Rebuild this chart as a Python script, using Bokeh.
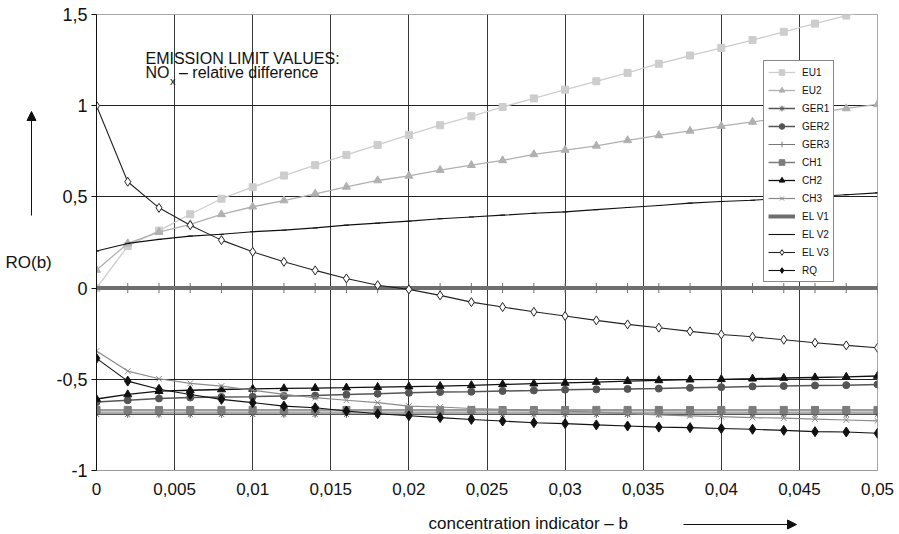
import math
from bokeh.plotting import figure
from bokeh.layouts import row, column
from bokeh.models import Range1d, FixedTicker, Legend, LegendItem, Label, Arrow, NormalHead
from bokeh.embed import file_html
from bokeh.resources import INLINE

# ---------------- data ----------------
b = [0.000, 0.002, 0.004, 0.006, 0.008, 0.010, 0.012, 0.014, 0.016, 0.018,
     0.020, 0.022, 0.024, 0.026, 0.028, 0.030, 0.032, 0.034, 0.036, 0.038,
     0.040, 0.042, 0.044, 0.046, 0.048, 0.050]

EU1 = [0.000, 0.230, 0.315, 0.405, 0.490, 0.553, 0.617, 0.674, 0.730, 0.785,
       0.840, 0.893, 0.942, 0.993, 1.040, 1.088, 1.134, 1.180, 1.230, 1.275,
       1.317, 1.360, 1.405, 1.450, 1.494, 1.535]
EU2 = [0.099, 0.245, 0.307, 0.349, 0.404, 0.446, 0.480, 0.517, 0.555, 0.590,
       0.615, 0.647, 0.674, 0.700, 0.733, 0.757, 0.780, 0.810, 0.837, 0.862,
       0.888, 0.911, 0.935, 0.960, 0.985, 1.007]
GER1 = [-0.692] * 26
GER2 = [-0.625, -0.615, -0.605, -0.600, -0.597, -0.595, -0.592, -0.589, -0.584, -0.579,
        -0.574, -0.570, -0.568, -0.564, -0.561, -0.557, -0.555, -0.553, -0.551, -0.547,
        -0.543, -0.539, -0.537, -0.534, -0.532, -0.528]
GER3 = [-0.680] * 26
CH1 = [-0.668] * 26
CH2 = [-0.608, -0.583, -0.565, -0.560, -0.556, -0.553, -0.550, -0.548, -0.546, -0.543,
       -0.540, -0.537, -0.533, -0.528, -0.524, -0.520, -0.515, -0.510, -0.506, -0.502,
       -0.500, -0.497, -0.493, -0.490, -0.487, -0.482]
CH3 = [-0.345, -0.455, -0.497, -0.522, -0.537, -0.560, -0.583, -0.601, -0.615, -0.628,
       -0.647, -0.652, -0.660, -0.665, -0.670, -0.674, -0.680, -0.688, -0.695, -0.700,
       -0.705, -0.710, -0.713, -0.718, -0.723, -0.728]
ELV1 = [0.0] * 26
ELV2 = [0.203, 0.245, 0.267, 0.285, 0.295, 0.309, 0.318, 0.330, 0.345, 0.356,
        0.367, 0.380, 0.390, 0.400, 0.410, 0.418, 0.430, 0.442, 0.453, 0.466,
        0.475, 0.482, 0.492, 0.502, 0.512, 0.522]
ELV3 = [1.000, 0.583, 0.440, 0.345, 0.263, 0.199, 0.144, 0.097, 0.053, 0.016,
        -0.007, -0.040, -0.077, -0.104, -0.130, -0.153, -0.177, -0.199, -0.217, -0.237,
        -0.254, -0.267, -0.283, -0.300, -0.314, -0.327]
RQ = [-0.385, -0.510, -0.555, -0.583, -0.610, -0.628, -0.647, -0.656, -0.674, -0.689,
      -0.700, -0.710, -0.720, -0.729, -0.738, -0.743, -0.750, -0.756, -0.762, -0.765,
      -0.770, -0.774, -0.780, -0.787, -0.789, -0.796]

series_names = ["EU1", "EU2", "GER1", "GER2", "GER3", "CH1", "CH2", "CH3",
                "EL V1", "EL V2", "EL V3", "RQ"]
series_values = [EU1, EU2, GER1, GER2, GER3, CH1, CH2, CH3, ELV1, ELV2, ELV3, RQ]

x_ticks = [0.0, 0.005, 0.01, 0.015, 0.02, 0.025, 0.03, 0.035, 0.04, 0.045, 0.05]
x_tick_labels = ["0", "0,005", "0,01", "0,015", "0,02", "0,025", "0,03", "0,035",
                 "0,04", "0,045", "0,05"]
y_ticks = [-1.0, -0.5, 0.0, 0.5, 1.0, 1.5]
y_tick_labels = ["-1", "-0,5", "0", "0,5", "1", "1,5"]

# ---------------- styles ----------------
styles = {
    "EU1":   dict(color="#cdcdcd", lw=1.3, marker="square",   size=7, fill="#cdcdcd", angle=0),
    "EU2":   dict(color="#b0b0b0", lw=1.3, marker="triangle", size=8, fill="#b0b0b0", angle=0),
    "GER1":  dict(color="#555555", lw=1.5, marker="asterisk", size=7, fill="#555555", angle=0),
    "GER2":  dict(color="#555555", lw=1.5, marker="circle",   size=7, fill="#555555", angle=0),
    "GER3":  dict(color="#777777", lw=1.0, marker="cross",    size=9, fill="#777777", angle=0),
    "CH1":   dict(color="#7c7c7c", lw=1.5, marker="square",   size=7, fill="#7c7c7c", angle=0),
    "CH2":   dict(color="#111111", lw=1.3, marker="triangle", size=8, fill="#111111", angle=0),
    "CH3":   dict(color="#8a8a8a", lw=1.2, marker="x",        size=8, fill="#8a8a8a", angle=0),
    "EL V1": dict(color="#6e6e6e", lw=4.0, marker="dash",     size=10, fill="#6e6e6e", angle=math.pi / 2),
    "EL V2": dict(color="#111111", lw=1.1, marker="dash",     size=5, fill="#111111", angle=0),
    "EL V3": dict(color="#222222", lw=1.1, marker="diamond",  size=9, fill="white", angle=0),
    "RQ":    dict(color="#111111", lw=1.1, marker="diamond",  size=10, fill="#111111", angle=0),
}

FONT = "Liberation Sans"
TXT = "#111111"

# page geometry (px): left strip | main chart ; bottom strip under main chart
LEFT_W = 53
PAGE_W, PAGE_H = 899, 534
FRAME_L, FRAME_R, FRAME_T, FRAME_B = 96, 877, 14, 470
MAIN_BOTTOM_BORDER = 34


def px_x(px):
    return (px - FRAME_L) / (FRAME_R - FRAME_L) * 0.05


def px_y(py):
    return -1 + (FRAME_B - py) / (FRAME_B - FRAME_T) * 2.5


# ---------------- main chart ----------------
p = figure(frame_width=FRAME_R - FRAME_L, frame_height=FRAME_B - FRAME_T,
           output_backend="svg", toolbar_location=None,
           x_range=Range1d(0, 0.05), y_range=Range1d(-1, 1.5),
           min_border_left=FRAME_L - LEFT_W, min_border_right=PAGE_W - FRAME_R,
           min_border_top=FRAME_T, min_border_bottom=MAIN_BOTTOM_BORDER)
p.background_fill_color = "white"
p.border_fill_color = "white"
p.outline_line_color = "#a8a8a8"
p.outline_line_width = 1

p.xaxis.ticker = FixedTicker(ticks=x_ticks)
p.xaxis.major_label_overrides = dict(zip(x_ticks, x_tick_labels))
p.xaxis.axis_line_color = "#9a9a9a"
p.xaxis.major_tick_in = 0
p.xaxis.major_tick_out = 0
p.xaxis.minor_tick_line_color = None
p.xaxis.major_label_standoff = 12
p.xaxis.major_label_text_font = FONT
p.xaxis.major_label_text_font_size = "17px"
p.xaxis.major_label_text_color = TXT

p.yaxis.ticker = FixedTicker(ticks=y_ticks)
p.yaxis.major_label_overrides = dict(zip(y_ticks, y_tick_labels))
p.yaxis.axis_line_color = TXT
p.yaxis.major_tick_in = 0
p.yaxis.major_tick_out = 5
p.yaxis.major_tick_line_color = TXT
p.yaxis.minor_tick_line_color = None
p.yaxis.major_label_standoff = 4
p.yaxis.major_label_text_font = FONT
p.yaxis.major_label_text_font_size = "18px"
p.yaxis.major_label_text_color = TXT

p.xgrid.ticker = FixedTicker(ticks=x_ticks)
p.xgrid.grid_line_color = "#3a3a3a"
p.xgrid.grid_line_width = 1
p.ygrid.ticker = FixedTicker(ticks=y_ticks)
p.ygrid.grid_line_color = "#222222"
p.ygrid.grid_line_width = 1

items = []
for name, vals in zip(series_names, series_values):
    st = styles[name]
    ln = p.line(b, vals, line_color=st["color"], line_width=st["lw"])
    sc = p.scatter(b, vals, marker=st["marker"], size=st["size"], angle=st["angle"],
                   line_color=st["color"], fill_color=st["fill"], line_width=1)
    items.append(LegendItem(label=name, renderers=[ln, sc]))

legend = Legend(items=items, location=(763 - FRAME_L, FRAME_B - 282))
legend.label_text_font = FONT
legend.label_text_font_size = "10px"
legend.label_text_color = TXT
legend.glyph_width = 27
legend.glyph_height = 14
legend.label_height = 14
legend.spacing = 4
legend.padding = 4
legend.margin = 0
legend.label_standoff = 7
legend.border_line_color = TXT
legend.border_line_width = 1
legend.background_fill_color = "white"
legend.background_fill_alpha = 1
p.add_layout(legend, "center")

p.add_layout(Label(x=px_x(145), y=px_y(57.5), text="EMISSION LIMIT VALUES:",
                   text_font=FONT, text_font_size="16px", text_color=TXT,
                   text_baseline="alphabetic"))
p.add_layout(Label(x=px_x(145), y=px_y(72), text="NO",
                   text_font=FONT, text_font_size="16px", text_color=TXT,
                   text_baseline="alphabetic"))
p.add_layout(Label(x=px_x(169.5), y=px_y(80), text="x",
                   text_font=FONT, text_font_size="11px", text_color=TXT,
                   text_baseline="alphabetic"))
p.add_layout(Label(x=px_x(178.5), y=px_y(72), text="– relative difference",
                   text_font=FONT, text_font_size="16px", text_color=TXT,
                   text_baseline="alphabetic"))

# ---------------- left strip: y title with arrow ----------------
left = figure(frame_width=LEFT_W, frame_height=PAGE_H, output_backend="svg",
              toolbar_location=None, x_range=Range1d(0, LEFT_W), y_range=Range1d(PAGE_H, 0),
              x_axis_location=None, y_axis_location=None,
              min_border_left=0, min_border_right=0, min_border_top=0, min_border_bottom=0)
left.grid.visible = False
left.outline_line_color = None
left.border_fill_color = "white"
left.add_layout(Label(x=5, y=262, text="RO(b)", text_font=FONT, text_font_size="17px",
                      text_color=TXT, text_baseline="middle"))
left.add_layout(Arrow(end=NormalHead(size=9, fill_color=TXT, line_color=TXT),
                      x_start=31, y_start=215, x_end=31, y_end=111,
                      line_color=TXT, line_width=1))

# ---------------- bottom strip: x title with arrow ----------------
BOT_TOP = FRAME_B + MAIN_BOTTOM_BORDER
bottom = figure(frame_width=PAGE_W - LEFT_W, frame_height=PAGE_H - BOT_TOP, output_backend="svg",
                toolbar_location=None, x_range=Range1d(LEFT_W, PAGE_W),
                y_range=Range1d(PAGE_H, BOT_TOP),
                x_axis_location=None, y_axis_location=None,
                min_border_left=0, min_border_right=0, min_border_top=0, min_border_bottom=0)
bottom.grid.visible = False
bottom.outline_line_color = None
bottom.border_fill_color = "white"
bottom.add_layout(Label(x=385, y=523, text="concentration indicator – b", text_font=FONT,
                        text_font_size="17px", text_color=TXT, text_baseline="middle"))
bottom.add_layout(Arrow(end=NormalHead(size=9, fill_color=TXT, line_color=TXT),
                        x_start=640, y_start=524, x_end=753, y_end=524,
                        line_color=TXT, line_width=1))

layout = row(left, column(p, bottom))
open("out.html", "w").write(file_html(layout, INLINE))
